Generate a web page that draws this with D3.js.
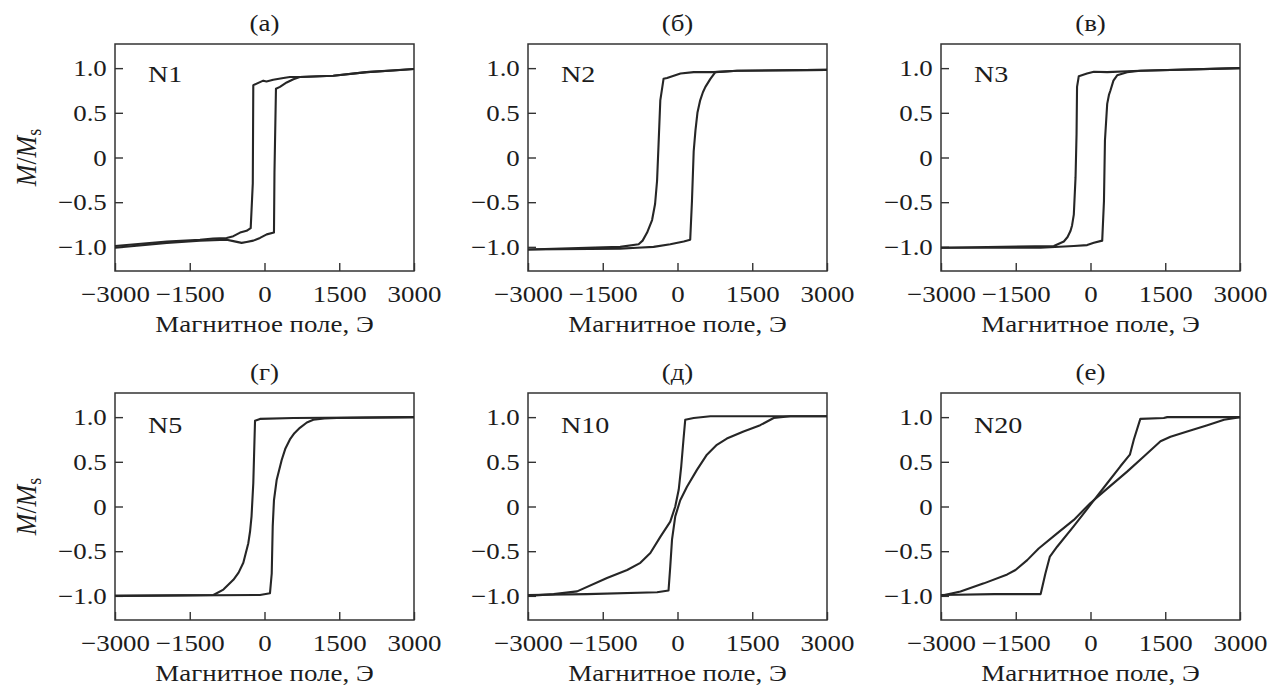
<!DOCTYPE html>
<html>
<head>
<meta charset="utf-8">
<script src="https://cdn.jsdelivr.net/npm/d3@7"></script>
<style>
  body { margin: 0; background: #fff; }
  svg text { font-family: "Liberation Serif", "DejaVu Serif", serif; fill: #1c1c1c; }
</style>
</head>
<body>
<svg id="chart" width="1268" height="686"></svg>
<script>
const panelLetters = ["(а)", "(б)", "(в)", "(г)", "(д)", "(е)"];
const sampleNames = ["N1", "N2", "N3", "N5", "N10", "N20"];
const xTicks = [-3000, -1500, 0, 1500, 3000];
const yTicks = [-1, -0.5, 0, 0.5, 1];

// branches as [field (Oe), M/Ms]
const n1Down = [[3000, 0.99], [2585, 0.974], [2050, 0.955], [1380, 0.914], [710, 0.9], [510, 0.9], [380, 0.89],
  [175, 0.87], [40, 0.85], [-25, 0.86], [-225, 0.81], [-235, -0.29], [-277, -0.79], [-360, -0.82], [-490, -0.84],
  [-625, -0.88], [-760, -0.9], [-1030, -0.906], [-1295, -0.92], [-1960, -0.94], [-3000, -0.99]];
const n1Up = [[-3000, -1.01], [-1960, -0.955], [-1295, -0.93], [-760, -0.92], [-625, -0.936], [-460, -0.955],
  [-360, -0.945], [-225, -0.93], [-90, -0.9], [45, -0.86], [190, -0.84], [200, -0.17], [230, 0.77], [310, 0.79],
  [445, 0.84], [580, 0.876], [710, 0.9], [1380, 0.914], [2050, 0.955], [3000, 0.99]];

const n2Down = [[3000, 0.98], [1200, 0.97], [725, 0.955], [325, 0.955], [60, 0.94], [-210, 0.89], [-280, 0.88],
  [-345, 0.64], [-380, 0.15], [-410, -0.26], [-450, -0.52], [-510, -0.7], [-610, -0.84], [-700, -0.93],
  [-780, -0.97], [-1150, -1.0], [-3000, -1.03]];
const n2Up = [[-3000, -1.03], [-1150, -1.02], [-810, -1.01], [-480, -1.0], [-145, -0.97], [125, -0.94],
  [255, -0.92], [290, -0.49], [325, 0.07], [360, 0.3], [400, 0.5], [455, 0.64], [510, 0.73], [560, 0.79],
  [660, 0.88], [760, 0.955], [1195, 0.97], [3000, 0.98]];

const n3Down = [[3000, 1.0], [1000, 0.97], [335, 0.955], [67, 0.96], [-70, 0.94], [-235, 0.91], [-270, 0.79],
  [-280, 0.26], [-300, -0.22], [-335, -0.64], [-370, -0.76], [-400, -0.82], [-460, -0.89], [-535, -0.94],
  [-735, -0.99], [-3000, -1.01]];
const n3Up = [[-3000, -1.01], [-1000, -1.01], [-335, -0.99], [-67, -0.98], [67, -0.955], [235, -0.93],
  [270, -0.49], [290, 0.19], [335, 0.6], [370, 0.7], [400, 0.75], [460, 0.86], [535, 0.92], [735, 0.955],
  [1000, 0.97], [3000, 1.0]];

const n5Down = [[3000, 1.0], [580, 0.99], [-90, 0.98], [-190, 0.96], [-210, 0.56], [-225, 0.26], [-260, -0.11],
  [-290, -0.28], [-325, -0.41], [-425, -0.63], [-520, -0.74], [-625, -0.82], [-825, -0.93], [-1025, -0.99],
  [-3000, -1.0]];
const n5Up = [[-3000, -1.0], [-90, -0.99], [110, -0.97], [145, -0.75], [165, -0.22], [190, 0.07], [245, 0.3],
  [345, 0.52], [420, 0.65], [510, 0.75], [600, 0.82], [710, 0.88], [850, 0.94], [980, 0.97], [1200, 0.985],
  [1450, 0.99], [3000, 1.0]];

const n10Down = [[3000, 1.01], [660, 1.01], [325, 0.99], [155, 0.97], [120, 0.75], [75, 0.45], [25, 0.19],
  [-45, 0.0], [-145, -0.17], [-345, -0.34], [-545, -0.52], [-745, -0.63], [-1010, -0.71], [-1415, -0.8],
  [-2015, -0.95], [-2485, -0.98], [-3000, -1.0]];
const n10Up = [[-3000, -0.99], [-1815, -0.98], [-410, -0.96], [-180, -0.94], [-145, -0.67], [-110, -0.37],
  [-45, -0.11], [55, 0.07], [190, 0.22], [390, 0.41], [590, 0.58], [790, 0.69], [990, 0.76], [1325, 0.84],
  [1660, 0.91], [1930, 0.99], [2265, 1.01], [3000, 1.01]];

const n20Down = [[3000, 1.0], [2680, 0.97], [2345, 0.91], [1940, 0.84], [1605, 0.78], [1405, 0.73], [1070, 0.56],
  [735, 0.39], [335, 0.2], [0, 0.04], [-335, -0.15], [-670, -0.3], [-1040, -0.47], [-1270, -0.6], [-1505, -0.71],
  [-1670, -0.76], [-2140, -0.86], [-2610, -0.95], [-3000, -1.0]];
const n20Up = [[-3000, -0.99], [-1930, -0.98], [-1000, -0.98], [-905, -0.75], [-815, -0.56], [-670, -0.45],
  [-335, -0.22], [0, 0.02], [335, 0.26], [600, 0.45], [790, 0.58], [870, 0.75], [1000, 0.98], [1470, 0.99],
  [1540, 1.0], [3000, 1.0]];

const loops = [[n1Down, n1Up], [n2Down, n2Up], [n3Down, n3Up], [n5Down, n5Up], [n10Down, n10Up], [n20Down, n20Up]];

const colLeft = [115, 528, 941], rowTop = [44, 393];
const width = 299, height = 227;
const stretch = 1.17; // glyphs in the source are horizontally widened

const svg = d3.select("#chart");

loops.forEach((loop, i) => renderLoopPanel(loop, i));

function renderLoopPanel(loop, i) {
  const col = i % 3, row = Math.floor(i / 3);
  const g = svg.append("g").attr("transform", `translate(${colLeft[col]},${rowTop[row]})`);

  const x = d3.scaleLinear().domain([-3000, 3000]).range([0, width]);
  const y = d3.scaleLinear().domain([-1.27, 1.27]).range([height, 0]);

  const xAxis = g.append("g")
    .attr("transform", `translate(0,${height})`)
    .call(d3.axisBottom(x).tickValues(xTicks).tickSizeInner(-8).tickSizeOuter(0).tickPadding(14)
      .tickFormat(d3.format("d")));
  const yAxis = g.append("g")
    .call(d3.axisLeft(y).tickValues(yTicks).tickSizeInner(-8).tickSizeOuter(0).tickPadding(7)
      .tickFormat(d => d === 0 ? "0" : d3.format(".1f")(d)));

  [xAxis, yAxis].forEach(ax => {
    ax.select(".domain").remove();
    ax.selectAll(".tick line").attr("stroke", "#333").attr("stroke-width", 1.4);
    ax.selectAll(".tick text")
      .attr("font-size", 23)
      .attr("transform", `scale(${stretch},1)`);
  });
  xAxis.selectAll(".tick text").attr("dy", null).attr("y", 31);
  yAxis.selectAll(".tick text").attr("dy", "0.33em");

  g.append("rect")
    .attr("width", width).attr("height", height)
    .attr("fill", "none").attr("stroke", "#333").attr("stroke-width", 1.5);

  const line = d3.line().x(d => x(d[0])).y(d => y(d[1]));
  g.append("g").selectAll("path")
    .data(loop)
    .join("path")
      .attr("d", line)
      .attr("fill", "none")
      .attr("stroke", "#262626")
      .attr("stroke-width", 2.1)
      .attr("stroke-linejoin", "round");

  g.append("text")
    .attr("transform", `translate(${width / 2},-13) scale(${stretch},1)`)
    .attr("text-anchor", "middle")
    .attr("font-size", 23)
    .text(panelLetters[i]);

  g.append("text")
    .attr("transform", `translate(33,${row === 0 ? 38 : 40}) scale(${stretch},1)`)
    .attr("font-size", 24)
    .text(sampleNames[i]);

  g.append("text")
    .attr("transform", `translate(${width / 2},${height + 61}) scale(${stretch},1)`)
    .attr("text-anchor", "middle")
    .attr("font-size", 23)
    .text("Магнитное поле, Э");

  if (col === 0) {
    const lab = g.append("text")
      .attr("transform", `translate(-79,${y(0)}) rotate(-90) scale(1,${stretch})`)
      .attr("text-anchor", "middle")
      .attr("font-size", 26);
    lab.append("tspan").attr("font-style", "italic").text("M");
    lab.append("tspan").text("/");
    lab.append("tspan").attr("font-style", "italic").text("M");
    lab.append("tspan").attr("font-size", 18).attr("dy", 4).text("s");
  }
}
</script>
</body>
</html>
